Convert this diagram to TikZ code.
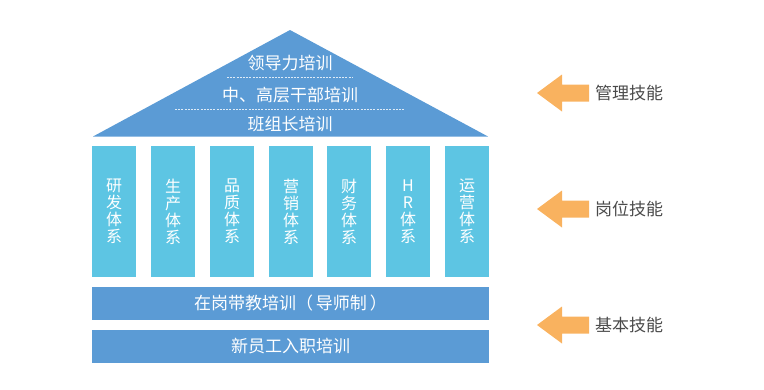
\documentclass[tikz,border=0pt]{standalone}
\usepackage{fontspec}
\setmainfont{Noto Sans CJK SC}
\begin{document}
\begin{tikzpicture}[x=1pt,y=-1pt,
  pillar/.style={fill=pillarC,draw=none,minimum width=44pt,minimum height=131pt,inner sep=0pt,
     text=white,font=\fontsize{16}{17}\selectfont,align=center},
  bar/.style={fill=blueC,draw=none,minimum width=397pt,minimum height=33pt,inner sep=0pt,
     text=white,font=\fontsize{17}{19}\selectfont},
  roof/.style={text=white,font=\fontsize{17}{19}\selectfont,inner sep=0pt},
  divider/.style={draw=white!80!blueC,line width=0.6pt,dash pattern=on 2pt off 1.2pt},
  label/.style={text=textC,font=\fontsize{17}{19}\selectfont,anchor=west,inner sep=0pt}]
\definecolor{blueC}{HTML}{5B9BD5}
\definecolor{pillarC}{HTML}{5DC5E3}
\definecolor{orangeC}{HTML}{F9B25F}
\definecolor{textC}{HTML}{4A4A4A}
\useasboundingbox (0,0) rectangle (764,389);
% roof
\coordinate (apex) at (290,30);
\coordinate (bl) at (93,136.5);
\coordinate (br) at (488,136.5);
\fill[blueC] (apex) -- (br) -- (bl) -- cycle;
\node[roof] (r1) at (290,63) {领导力培训};
\node[roof] (r2) at (290,95) {中、高层干部培训};
\node[roof] (r3) at (290,124.5) {班组长培训};
\coordinate (d1a) at (227,77); \coordinate (d1b) at (352,77);
\coordinate (d2a) at (175,109); \coordinate (d2b) at (405,109);
\draw[divider] (d1a) -- (d1b);
\draw[divider] (d2a) -- (d2b);
% pillars
\node[pillar] (p1) at (114,211.5) {研\\发\\体\\系};
\node[pillar] (p2) at (173,211.5) {生\\产\\体\\系};
\node[pillar] (p3) at (232,211.5) {品\\质\\体\\系};
\node[pillar] (p4) at (291,211.5) {营\\销\\体\\系};
\node[pillar] (p5) at (349,211.5) {财\\务\\体\\系};
\node[pillar] (p6) at (408,211.5) {H\\R\\体\\系};
\node[pillar] (p7) at (467,211.5) {运\\营\\体\\系};
% bars
\node[bar] (b1) at (290.5,303.5) {在岗带教培训（\,导师制\,）};
\node[bar] (b2) at (290.5,346.5) {新员工入职培训};
% arrows and labels
\foreach \n/\yy/\t in {a1/93/管理技能, a2/209/岗位技能, a3/325/基本技能}{
  \fill[orangeC] (537,\yy) -- (562,\yy-18.5) -- (562,\yy-8.5) -- (589,\yy-8.5)
     -- (589,\yy+8.5) -- (562,\yy+8.5) -- (562,\yy+18.5) -- cycle;
  \node[label] (\n) at (595,\yy) {\t};
}
\end{tikzpicture}
\end{document}
